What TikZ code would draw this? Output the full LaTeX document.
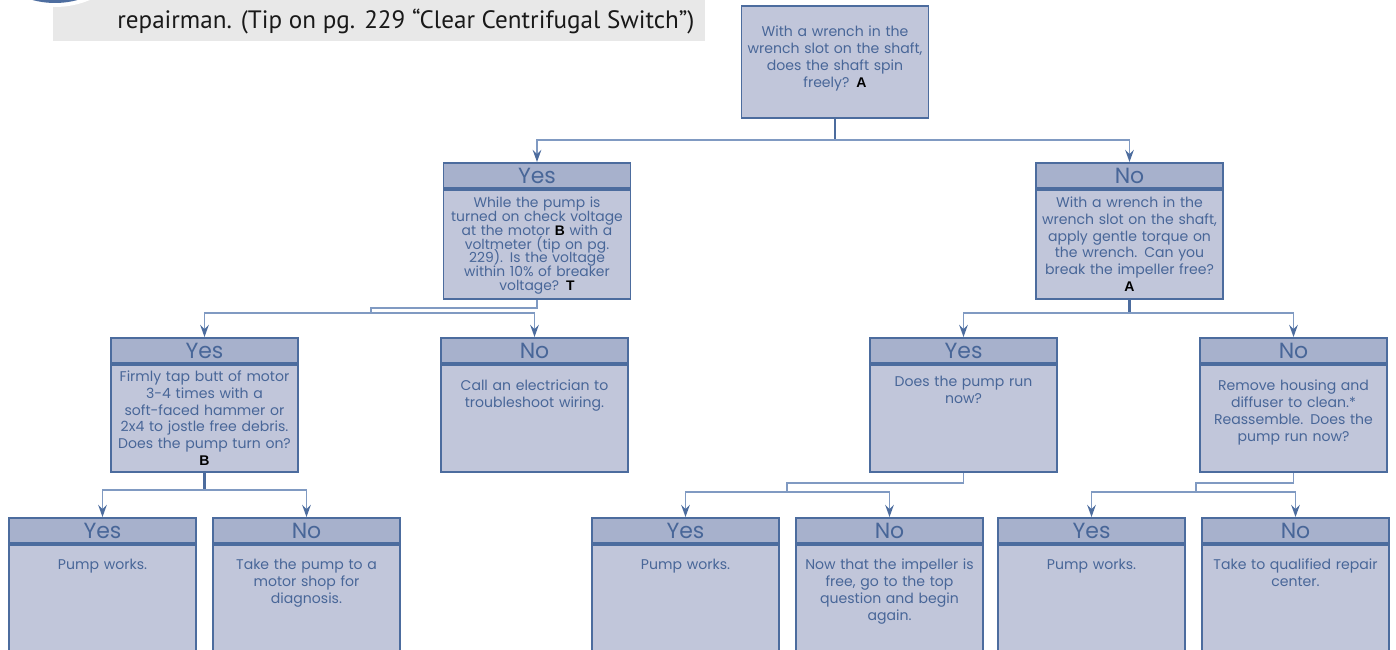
\documentclass[tikz,border=0pt]{standalone}
\usepackage{fontspec}
\setmainfont{Poppins}
\newfontfamily\bannerfont{PT Sans}
\newfontfamily\markfont{Liberation Sans}
\usetikzlibrary{arrows.meta, positioning}

\definecolor{boxline}{RGB}{76,108,158}
\definecolor{boxfill}{RGB}{193,198,218}
\definecolor{headfill}{RGB}{167,177,204}
\definecolor{boxtext}{RGB}{72,102,152}
\definecolor{linklight}{RGB}{128,154,194}
\definecolor{bannergray}{RGB}{232,232,232}
\definecolor{badge}{RGB}{78,110,160}

\newcommand{\mk}[1]{{\markfont\bfseries\color{black}#1}}
\newcommand{\tightlines}{\lineskiplimit=-16000pt\relax}

\begin{document}
\begin{tikzpicture}[
    x=0.02cm, y=-0.02cm,
    head/.style={
        draw=boxline,
        line width=1.1pt,
        fill=headfill,
        minimum width=3.74cm,
        minimum height=0.5cm,
        inner sep=0pt,
        anchor=north,
        text=boxtext,
        font=\fontsize{12.5}{12.5}\selectfont,
    },
    body/.style={
        draw=boxline,
        line width=1.1pt,
        fill=boxfill,
        text width=3.5cm,
        inner xsep=0.12cm,
        align=center,
        text=boxtext,
        text height=0.2cm,
        font=\fontsize{8}{9.6}\selectfont,
    },
    lvtop/.style={inner ysep=0.41cm, text depth=1.22cm},
    lvtwo/.style={inner ysep=0.15cm, text depth=1.68cm},
    lvthree/.style={inner ysep=0.24cm, text depth=1.46cm},
    lvfour/.style={inner ysep=0.3cm, text depth=1.6cm},
    stem/.style={draw=boxline, line width=1.3pt},
    branch/.style={draw=linklight, line width=0.9pt},
    choice/.style={
        branch,
        -{Stealth[length=7pt, width=5pt, inset=2.5pt, color=boxline]},
    },
]
    \useasboundingbox (0,0) rectangle (1396,649);

    % Banner
    \fill[bannergray] (53,-20) rectangle (705,41);
    \fill[white] (55,-83) circle[radius=1.8cm];
    \fill[badge] (55,-83) circle[radius=1.72cm];
    \node[anchor=base west, inner sep=0pt, text=black!90,
        font=\bannerfont\fontsize{14.3}{14.3}\selectfont] (tip) at (117,29)
        {repairman. (Tip on pg. 229 “Clear Centrifugal Switch”)};

    % Top question
    \node[body, lvtop, anchor=north] (q) at (835,5)
        {With a wrench in the\\wrench slot on the shaft,\\does the shaft spin\\freely? \mk{A}};

    % Second level
    \node[head] (yesA) at (537,162) {Yes};
    \node[body, lvtwo, below=0pt of yesA, font=\fontsize{7.9}{7.9}\selectfont] (yesAq)
        {\tightlines While the pump is\\turned on check voltage\\at the motor \mk{B} with a\\voltmeter (tip on pg.\\229). Is the voltage\\within 10\% of breaker\\voltage? \mk{T}};
    \node[head] (noA) at (1129.5,162) {No};
    \node[body, lvtwo, below=0pt of noA] (noAq)
        {With a wrench in the\\wrench slot on the shaft,\\apply gentle torque on\\the wrench. Can you\\break the impeller free?\\\mk{A}};

    % Third level
    \node[head] (yesB) at (204.5,337) {Yes};
    \node[body, lvthree, below=0pt of yesB, inner ysep=0.13cm, text depth=1.68cm] (yesBq)
        {Firmly tap butt of motor\\3-4 times with a\\soft-faced hammer or\\2x4 to jostle free debris.\\Does the pump turn on?\\\mk{B}};
    \node[head] (noB) at (534.5,337) {No};
    \node[body, lvthree, below=0pt of noB, inner ysep=0.32cm, text depth=1.3cm] (noBq)
        {Call an electrician to\\troubleshoot wiring.};
    \node[head] (yesC) at (963.5,337) {Yes};
    \node[body, lvthree, below=0pt of yesC] (yesCq)
        {Does the pump run\\now?};
    \node[head] (noC) at (1293.5,337) {No};
    \node[body, lvthree, below=0pt of noC, inner ysep=0.32cm, text depth=1.3cm] (noCq)
        {Remove housing and\\diffuser to clean.*\\Reassemble. Does the\\pump run now?};

    % Fourth level
    \node[head] (yesD) at (102.5,517) {Yes};
    \node[body, lvfour, below=0pt of yesD] (yesDq) {Pump works.};
    \node[head] (noD) at (306.5,517) {No};
    \node[body, lvfour, below=0pt of noD] (noDq)
        {Take the pump to a\\motor shop for\\diagnosis.};
    \node[head] (yesE) at (685.5,517) {Yes};
    \node[body, lvfour, below=0pt of yesE] (yesEq) {Pump works.};
    \node[head] (noE) at (889.5,517) {No};
    \node[body, lvfour, below=0pt of noE] (noEq)
        {Now that the impeller is\\free, go to the top\\question and begin\\again.};
    \node[head] (yesF) at (1091.5,517) {Yes};
    \node[body, lvfour, below=0pt of yesF] (yesFq) {Pump works.};
    \node[head] (noF) at (1295.5,517) {No};
    \node[body, lvfour, below=0pt of noF] (noFq)
        {Take to qualified repair\\center.};

    % Connectors
    \coordinate (j1) at (835,140);
    \draw[stem] (q.south) -- (j1);
    \draw[choice] (j1) -| (yesA.north);
    \draw[choice] (j1) -| (noA.north);

    \coordinate (j2) at (371,313);
    \draw[branch] (yesAq.south) -- ++(0,8) -| (j2);
    \draw[choice] (j2) -| (yesB.north);
    \draw[choice] (j2) -| (noB.north);

    \coordinate (j3) at (1129.5,313);
    \draw[stem] (noAq.south) -- (j3);
    \draw[choice] (j3) -| (yesC.north);
    \draw[choice] (j3) -| (noC.north);

    \coordinate (j4) at (204.5,490);
    \draw[stem] (yesBq.south) -- (j4);
    \draw[choice] (j4) -| (yesD.north);
    \draw[choice] (j4) -| (noD.north);

    \coordinate (j5) at (787,492);
    \draw[branch] (yesCq.south) -- ++(0,10) -| (j5);
    \draw[choice] (j5) -| (yesE.north);
    \draw[choice] (j5) -| (noE.north);

    \coordinate (j6) at (1196,492);
    \draw[branch] (noCq.south) -- ++(0,10) -| (j6);
    \draw[choice] (j6) -| (yesF.north);
    \draw[choice] (j6) -| (noF.north);
\end{tikzpicture}
\end{document}
